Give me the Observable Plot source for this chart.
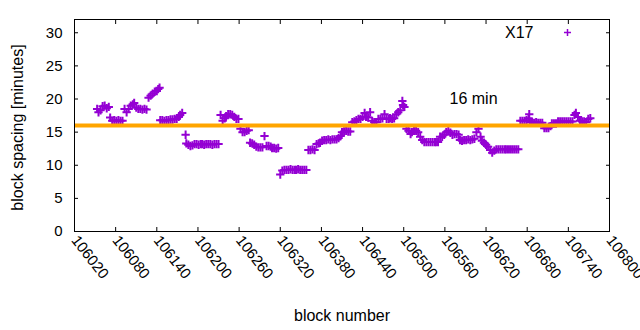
<!DOCTYPE html>
<html>
<head>
<meta charset="utf-8">
<script src="https://cdn.jsdelivr.net/npm/d3@7"></script>
<script src="https://cdn.jsdelivr.net/npm/@observablehq/plot@0.6"></script>
<style>
  html, body { margin: 0; padding: 0; background: #fff; }
  #chart { width: 640px; height: 330px; }
</style>
</head>
<body>
<div id="chart"></div>
<script>
// block numbers (x) and block spacing in minutes (y)
const blocks = [
  106053,106055,106058,106061,106064,106067,106070,106072,106075,106078,106081,106084,106087,106090,
  106093,106096,106099,106102,106105,106107,106110,106113,106116,106119,106122,106125,
  106128,106131,106134,106137,106140,106142,106144,
  106145,106148,106151,106154,106157,106160,106163,106166,106169,106172,106174,106177,
  106182,106183,106186,106189,106192,106195,106198,106201,106204,106206,106209,106212,106215,106218,106221,106224,106227,106230,
  106233,106236,106239,106241,106244,106247,106250,106253,106256,106259,
  106262,106265,106268,106271,106274,
  106276,106279,106282,106285,106288,106291,106294,106297,106300,106303,106306,106308,106311,106314,106317,
  106320,106323,106326,106329,106332,106335,106338,106341,106343,106346,106349,106352,106355,106358,
  106361,106364,106367,106370,106373,106376,106378,106381,106384,106387,106390,106393,106396,106399,106402,106405,106408,
  106410,106413,106416,106419,106422,
  106425,106428,106431,106434,106437,106440,106443,106445,106448,106451,106454,106457,106460,106463,106466,106469,106472,106475,106478,106480,106483,106486,106489,106492,106495,106498,106499,106501,
  106504,106507,106510,106512,106515,106518,106521,106524,106527,106530,106533,106536,106539,106542,106545,106547,106550,
  106553,106556,106559,106562,106565,106568,106571,106574,106577,106580,
  106582,106585,106588,106591,106594,106597,106600,106603,106606,106609,106612,106614,106617,106620,106623,106626,106629,106632,
  106635,106638,106641,106644,106647,106649,106652,106655,106658,106661,106664,106667,
  106670,106673,106676,106679,106682,106683,106684,106687,106690,106693,106696,106699,106702,
  106705,106708,106711,106714,106716,106719,106722,106725,106728,106731,106734,106737,106740,106743,106746,
  106749,106751,106754,106757,106760,106763,106766,106769,106772
];
const spacing = [
  18.5,18.0,18.3,18.9,19.0,18.6,18.8,17.2,16.7,16.8,16.7,16.8,16.7,16.7,
  18.5,18.0,18.5,19.0,19.2,19.4,18.7,18.5,18.5,18.4,18.5,18.4,
  20.2,20.5,20.8,21.1,21.2,21.5,21.7,
  16.8,16.8,16.7,16.8,16.8,16.9,16.9,17.0,17.0,17.3,17.6,17.9,
  14.6,13.3,13.1,12.9,13.0,13.2,13.2,13.1,13.2,13.2,13.1,13.2,13.2,13.2,13.1,13.2,13.2,13.2,
  17.6,16.7,17.1,17.4,17.7,17.7,17.6,17.3,17.0,17.0,
  15.5,15.0,15.0,15.2,15.3,
  13.4,13.3,13.1,12.8,12.7,12.7,12.7,14.4,12.9,12.9,12.8,12.6,12.6,12.5,12.6,
  8.6,9.2,9.3,9.3,9.3,9.4,9.3,9.3,9.3,9.4,9.3,9.3,9.3,9.3,
  12.3,12.3,12.4,12.3,13.2,13.3,13.4,13.7,13.8,13.8,13.9,13.8,13.9,13.9,13.9,14.1,14.4,
  15.0,15.1,15.2,15.1,15.1,
  16.5,16.6,16.8,17.0,17.0,17.3,17.9,17.3,17.2,18.0,16.7,16.5,16.5,17.0,17.0,17.1,17.7,17.0,17.0,17.1,17.0,17.1,17.7,18.0,18.3,19.7,19.1,18.8,
  15.5,15.2,14.7,15.0,15.2,15.2,15.0,14.3,13.8,13.5,13.5,13.5,13.5,13.5,13.5,13.5,13.5,
  14.3,14.3,14.6,15.0,15.2,14.9,14.6,14.7,14.7,14.6,
  13.8,13.7,13.8,13.8,13.9,13.8,13.9,14.0,15.0,15.5,14.3,13.7,13.4,13.1,12.8,12.3,11.9,12.2,
  12.4,12.4,12.4,12.4,12.4,12.4,12.4,12.4,12.4,12.4,12.4,12.4,
  16.7,16.7,16.7,16.8,17.1,17.7,16.5,16.5,16.4,16.5,16.4,16.4,16.4,
  15.6,15.6,15.6,15.9,16.3,16.3,16.3,16.6,16.6,16.6,16.6,16.6,16.6,16.6,16.6,
  17.6,17.9,17.3,16.7,16.6,16.6,16.5,17.0,17.1
];
const xTicks = [106020,106080,106140,106200,106260,106320,106380,106440,106500,106560,106620,106680,106740,106800];
const yTicks = [0,5,10,15,20,25,30];
const refLevel = [16];
const refLabel = ["16 min"];
const seriesName = ["X17"];
const xTitle = ["block number"];
const yTitle = ["block spacing [minutes]"];

const points = blocks.map((b, i) => ({block: b, minutes: spacing[i]}));
const violet = "#9400D3";
const orange = "#FFA500";

const chart = Plot.plot({
  width: 640,
  height: 330,
  marginLeft: 74,
  marginRight: 31,
  marginTop: 19,
  marginBottom: 99,
  x: {domain: [106020, 106800]},
  y: {domain: [0, 32]},
  style: {fontFamily: "'Liberation Sans', Arial, sans-serif", fontSize: "15px", color: "black", background: "white"},
  marks: [
    Plot.dot(points, {x: "block", y: "minutes", symbol: "plus", r: 2.8, stroke: violet, strokeWidth: 2}),
    Plot.ruleY(refLevel, {stroke: orange, strokeWidth: 4}),
    Plot.frame({stroke: "black"}),
    Plot.axisY(yTicks, {anchor: "left", tickSize: -4, tickPadding: 16, label: null, tickFormat: d => String(d)}),
    Plot.axisY(yTicks, {anchor: "right", tickSize: -4, label: null, tickFormat: () => ""}),
    Plot.axisX(xTicks, {anchor: "bottom", tickSize: -4, tickPadding: 10, tickRotate: 52, label: null, tickFormat: d3.format("d")}),
    Plot.axisX(xTicks, {anchor: "top", tickSize: -4, label: null, tickFormat: () => ""}),
    Plot.text(xTitle, {frameAnchor: "bottom", dy: 84, lineAnchor: "middle", fontSize: 16}),
    Plot.text(yTitle, {frameAnchor: "left", dx: -57, dy: 2, rotate: -90, textAnchor: "middle", lineAnchor: "middle", fontSize: 16}),
    Plot.text(refLabel, {frameAnchor: "top-left", dx: 375, dy: 79, textAnchor: "start", lineAnchor: "middle", fontSize: 16}),
    Plot.text(seriesName, {frameAnchor: "top-right", dx: -76, dy: 13, textAnchor: "end", lineAnchor: "middle", fontSize: 16}),
    Plot.dot(seriesName, {frameAnchor: "top-right", dx: -42, dy: 13, symbol: "plus", r: 2.4, stroke: violet, strokeWidth: 1.5})
  ]
});
document.getElementById("chart").appendChild(chart);
</script>
</body>
</html>
